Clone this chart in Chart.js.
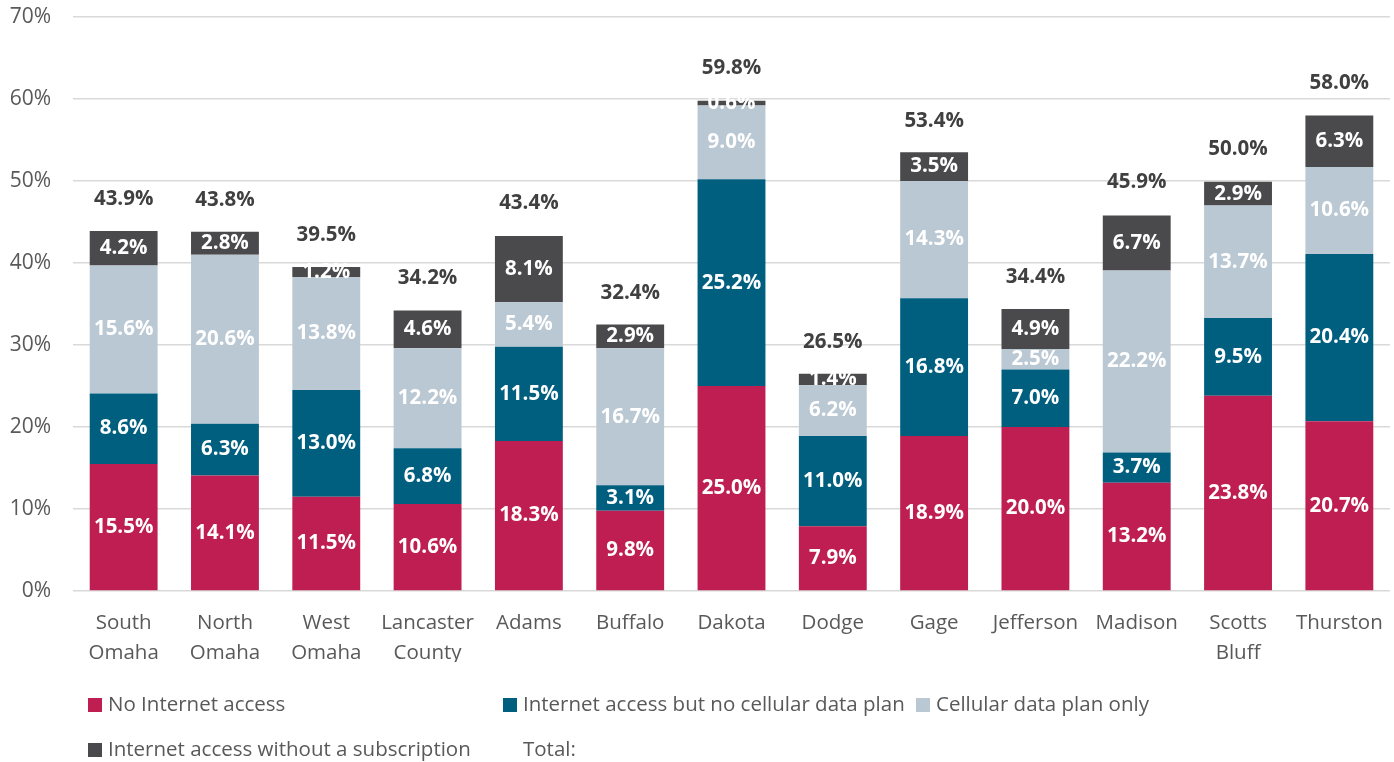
<!DOCTYPE html>
<html>
<head>
<meta charset="utf-8">
<script src="https://cdn.jsdelivr.net/npm/chart.js@4/dist/chart.umd.min.js"></script>
<style>
  body { margin: 0; background: #fff; }
  #wrap { position: relative; width: 1394px; height: 762px; }
  #legend { position: absolute; left: 0; top: 0; width: 1394px; height: 762px; pointer-events: none;
            font-family: "Open Sans", sans-serif; font-size: 20.5px; color: #595959; }
  .item { position: absolute; white-space: nowrap; line-height: 26px; }
  .box { display: inline-block; width: 14px; height: 14px; margin-right: 6px; vertical-align: -1px; }
</style>
</head>
<body>
<div id="wrap">
  <canvas id="chart" width="1394" height="762"></canvas>
  <div id="legend"></div>
</div>
<script>
'use strict';

const categories = [['South', 'Omaha'], ['North', 'Omaha'], ['West', 'Omaha'], ['Lancaster', 'County'], 'Adams', 'Buffalo',
  'Dakota', 'Dodge', 'Gage', 'Jefferson', 'Madison', ['Scotts', 'Bluff'], 'Thurston'];

const noInternet = [15.5, 14.1, 11.5, 10.6, 18.3, 9.8, 25.0, 7.9, 18.9, 20.0, 13.2, 23.8, 20.7];
const noCellPlan = [8.6, 6.3, 13.0, 6.8, 11.5, 3.1, 25.2, 11.0, 16.8, 7.0, 3.7, 9.5, 20.4];
const cellOnly = [15.6, 20.6, 13.8, 12.2, 5.4, 16.7, 9.0, 6.2, 14.3, 2.5, 22.2, 13.7, 10.6];
const noSubscription = [4.2, 2.8, 1.2, 4.6, 8.1, 2.9, 0.6, 1.4, 3.5, 4.9, 6.7, 2.9, 6.3];
const totals = [43.9, 43.8, 39.5, 34.2, 43.4, 32.4, 59.8, 26.5, 53.4, 34.4, 45.9, 50.0, 58.0];

const yTicks = [0, 10, 20, 30, 40, 50, 60, 70];

let canvasElem = document.getElementById('chart');

// white labels inside each segment, dark totals above each stack
const labelPlugin = {
  id: 'labels',
  afterDatasetsDraw(chart) {
    let ctx = chart.ctx;
    ctx.save();
    ctx.textAlign = 'center';
    ctx.textBaseline = 'middle';
    ctx.font = 'bold 20.5px "Open Sans", sans-serif';
    ctx.fillStyle = '#ffffff';
    chart.data.datasets.forEach((ds, i) => {
      let meta = chart.getDatasetMeta(i);
      meta.data.forEach((bar, j) => {
        ctx.fillText(ds.data[j].toFixed(1) + '%', bar.x, (bar.y + bar.base) / 2);
      });
    });
    ctx.fillStyle = '#404040';
    let yScale = chart.scales.y;
    let first = chart.getDatasetMeta(0);
    totals.forEach((t, j) => {
      ctx.fillText(t.toFixed(1) + '%', first.data[j].x, yScale.getPixelForValue(t) - 32);
    });
    ctx.restore();
  }
};

const data = {
  labels: categories,
  datasets: [
    { label: 'No Internet access', data: noInternet, backgroundColor: '#BE1E52' },
    { label: 'Internet access but no cellular data plan', data: noCellPlan, backgroundColor: '#005F7F' },
    { label: 'Cellular data plan only', data: cellOnly, backgroundColor: '#BAC8D3' },
    { label: 'Internet access without a subscription', data: noSubscription, backgroundColor: '#4A4A4C' },
  ],
};

const options = {
  responsive: false,
  animation: false,
  layout: { padding: { top: 17, right: 4, bottom: 100, left: 0 } },
  datasets: { bar: { categoryPercentage: 1, barPercentage: 0.67, borderWidth: 0 } },
  plugins: { legend: { display: false }, tooltip: { enabled: false } },
  scales: {
    x: {
      stacked: true,
      grid: { display: false },
      border: { display: false },
      ticks: { color: '#595959', font: { family: 'Open Sans', size: 20.5, lineHeight: 1.46 }, padding: 9, maxRotation: 0, autoSkip: false },
      afterFit: s => { s.height = 71; },
    },
    y: {
      stacked: true,
      min: 0,
      max: 70,
      afterBuildTicks: s => { s.ticks = yTicks.map(v => ({ value: v })); },
      grid: { color: '#D9D9D9', lineWidth: 1.5, drawTicks: false },
      border: { display: false },
      ticks: { color: '#595959', font: { family: 'Open Sans', size: 21 }, padding: 22, callback: v => v + '%' },
      afterFit: s => { s.width = 73; s.paddingTop = 0; s.paddingBottom = 0; },
    },
  },
};

new Chart(canvasElem, { type: 'bar', data: data, options: options, plugins: [labelPlugin] });

// legend laid out in Excel-like columns
const legendItems = [
  { text: 'No Internet access', color: '#BE1E52', x: 88, y: 690 },
  { text: 'Internet access but no cellular data plan', color: '#005F7F', x: 503, y: 690 },
  { text: 'Cellular data plan only', color: '#BAC8D3', x: 916, y: 690 },
  { text: 'Internet access without a subscription', color: '#4A4A4C', x: 88, y: 735 },
  { text: 'Total:', color: null, x: 523, y: 735 },
];
let legendElem = document.getElementById('legend');
legendItems.forEach(it => {
  let div = document.createElement('div');
  div.className = 'item';
  div.style.left = it.x + 'px';
  div.style.top = it.y + 'px';
  div.innerHTML = (it.color ? '<span class="box" style="background:' + it.color + '"></span>' : '') + it.text;
  legendElem.appendChild(div);
});
</script>
</body>
</html>
